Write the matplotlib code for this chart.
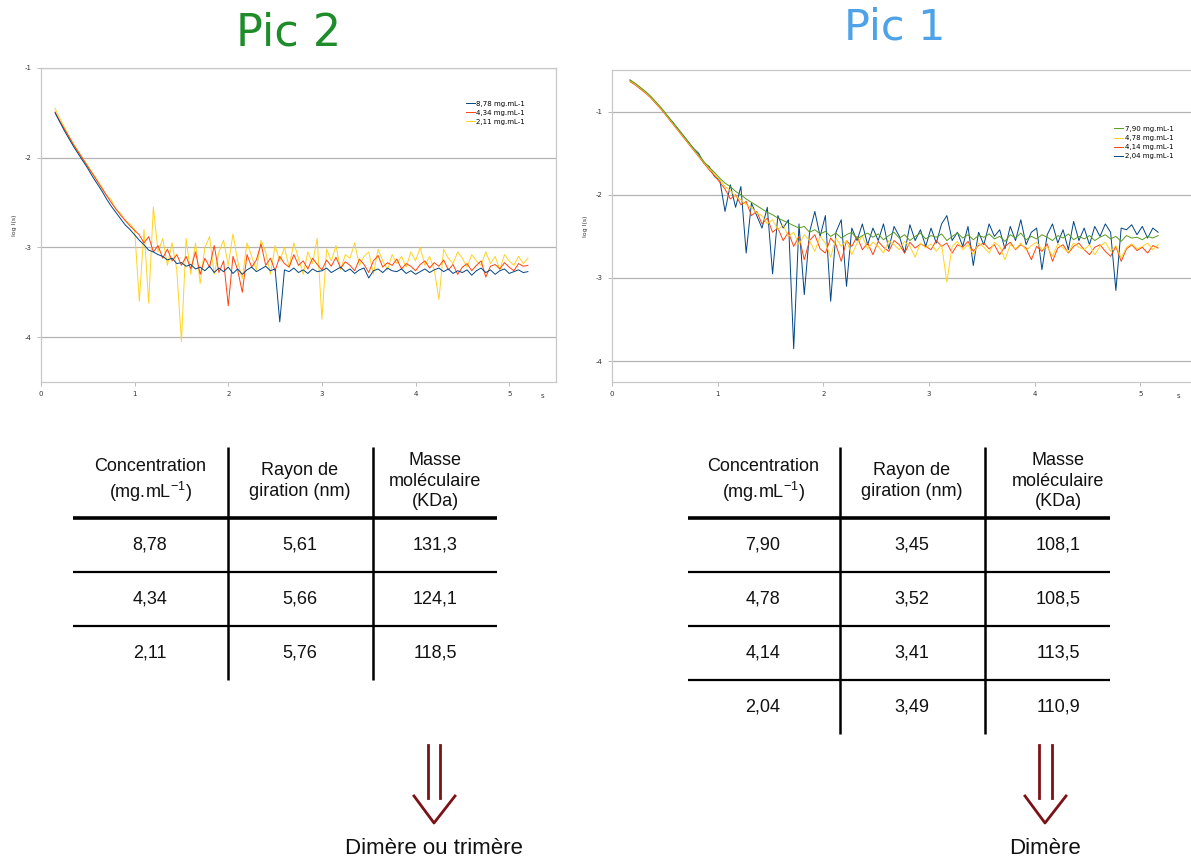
import numpy as np
import matplotlib
matplotlib.use("Agg")
import matplotlib.pyplot as plt

plt.rcParams["axes.unicode_minus"] = False
plt.rcParams["mathtext.default"] = "regular"

# Pic 2 curves (log I(s) vs s), step 0.05 s from 0.15
pic2_labels = ["8,78 mg.mL-1", "4,34 mg.mL-1", "2,11 mg.mL-1"]
pic2_c878 = [-1.50, -1.60, -1.70, -1.79, -1.88, -1.96, -2.04, -2.12, -2.21, -2.29,
             -2.37, -2.46, -2.54, -2.61, -2.68, -2.75, -2.80, -2.86,
             -2.92, -2.97, -3.03, -3.05, -3.08, -3.10, -3.14, -3.12, -3.18, -3.17,
             -3.21, -3.19, -3.24, -3.22, -3.26, -3.21, -3.28, -3.23, -3.27,
             -3.22, -3.29, -3.24, -3.30, -3.25, -3.22, -3.27, -3.24, -3.21, -3.26,
             -3.24, -3.83, -3.25, -3.27, -3.23, -3.28, -3.25, -3.29, -3.24, -3.27,
             -3.26, -3.23, -3.28, -3.25, -3.22, -3.27, -3.24, -3.29, -3.25, -3.23,
             -3.34, -3.26, -3.24, -3.28, -3.23, -3.26, -3.27, -3.24, -3.29, -3.26,
             -3.30, -3.27, -3.24, -3.28, -3.25, -3.23, -3.27, -3.24, -3.29, -3.26,
             -3.28, -3.25, -3.31, -3.26, -3.23, -3.28, -3.25, -3.30, -3.26, -3.24,
             -3.29, -3.27, -3.25, -3.28, -3.27]
pic2_c434 = [-1.49, -1.59, -1.68, -1.77, -1.86, -1.94, -2.02, -2.10, -2.18, -2.26,
             -2.34, -2.42, -2.50, -2.57, -2.64, -2.70, -2.76, -2.81,
             -2.86, -2.95, -2.88, -3.05, -2.98, -3.12, -3.02, -3.15, -3.08, -3.20,
             -3.10, -3.24, -3.05, -3.30, -3.12, -3.22, -2.98, -3.28, -3.15,
             -3.65, -3.10, -3.25, -3.50, -3.08, -3.22, -3.14, -2.96, -3.20, -3.12,
             -3.26, -3.10, -3.18, -3.22, -3.08, -3.20, -3.15, -3.24, -3.12, -3.19,
             -3.25, -3.14, -3.21, -3.11, -3.23, -3.16, -3.20, -3.26, -3.13, -3.19,
             -3.28, -3.15, -3.09, -3.22, -3.17, -3.20, -3.13, -3.24, -3.18, -3.21,
             -3.26, -3.19, -3.15, -3.23, -3.17, -3.21, -3.14, -3.25, -3.19, -3.30,
             -3.22, -3.18, -3.26, -3.20, -3.15, -3.33, -3.21, -3.19, -3.24, -3.17,
             -3.22, -3.26, -3.18, -3.21, -3.20]
pic2_c211 = [-1.45, -1.56, -1.66, -1.76, -1.85, -1.93, -2.01, -2.09, -2.17, -2.25,
             -2.33, -2.42, -2.47, -2.58, -2.62, -2.70, -2.74, -2.80,
             -3.60, -2.80, -3.62, -2.55, -3.05, -2.90, -3.20, -2.95, -3.25, -4.05,
             -2.90, -3.30, -2.95, -3.40, -3.00, -2.88, -3.30, -3.05, -2.92,
             -3.20, -2.85, -3.15, -3.35, -2.95, -3.10, -3.25, -2.92, -3.05, -3.30,
             -2.98, -3.15, -3.00, -3.22, -2.95, -3.12, -3.30, -3.05, -3.18, -2.90,
             -3.80, -3.02, -3.15, -2.98, -3.25, -3.08, -3.12, -2.95, -3.20, -3.10,
             -3.05, -3.30, -3.02, -3.15, -3.25, -3.08, -3.18, -3.10, -3.22, -3.05,
             -3.15, -3.00, -3.20, -3.10, -3.25, -3.58, -3.02, -3.12, -3.18, -3.05,
             -3.12, -3.22, -3.08, -3.15, -3.20, -3.05, -3.18, -3.10, -3.25, -3.08,
             -3.15, -3.20, -3.10, -3.18, -3.12]

# Pic 1 curves, step 0.05 s from 0.17
pic1_labels = ["7,90 mg.mL-1", "4,78 mg.mL-1", "4,14 mg.mL-1", "2,04 mg.mL-1"]
pic1_c790 = [-0.62, -0.66, -0.71, -0.76, -0.82, -0.89, -0.96, -1.04, -1.12, -1.20,
             -1.28, -1.36, -1.44, -1.52, -1.60, -1.67, -1.73, -1.80,
             -1.86, -1.90, -1.96, -2.00, -2.05, -2.09, -2.13, -2.17, -2.21, -2.24,
             -2.28, -2.31, -2.34, -2.37, -2.40, -2.38, -2.45, -2.42, -2.47,
             -2.44, -2.50, -2.46, -2.52, -2.48, -2.45, -2.53, -2.49, -2.46, -2.51,
             -2.47, -2.54, -2.49, -2.45, -2.52, -2.48, -2.55, -2.50, -2.46, -2.53,
             -2.49, -2.51, -2.47, -2.55, -2.50, -2.46, -2.52, -2.48, -2.54, -2.49,
             -2.51, -2.47, -2.53, -2.50, -2.56, -2.48, -2.52, -2.46, -2.54, -2.50,
             -2.53, -2.48, -2.51, -2.55, -2.49, -2.52, -2.47, -2.54, -2.50, -2.53,
             -2.49, -2.55, -2.51, -2.48, -2.53, -2.50, -2.56, -2.49, -2.52, -2.51,
             -2.54, -2.50, -2.52, -2.49]
pic1_c478 = [-0.63, -0.67, -0.72, -0.77, -0.83, -0.90, -0.97, -1.05, -1.13, -1.21,
             -1.29, -1.37, -1.45, -1.53, -1.61, -1.68, -1.75, -1.82,
             -1.90, -1.95, -2.02, -2.06, -2.12, -2.15, -2.22, -2.25, -2.35, -2.30,
             -2.42, -2.36, -2.50, -2.45, -2.60, -2.48, -2.55, -2.68, -2.50,
             -2.58, -2.75, -2.52, -2.62, -2.55, -2.72, -2.58, -2.50, -2.65, -2.57,
             -2.62, -2.70, -2.55, -2.60, -2.66, -2.56, -2.62, -2.75, -2.58, -2.64,
             -2.59, -2.68, -2.60, -3.05, -2.62, -2.56, -2.66, -2.60, -2.72, -2.58,
             -2.63, -2.70, -2.57, -2.62, -2.78, -2.60, -2.65, -2.58, -2.67, -2.61,
             -2.57, -2.66, -2.62, -2.74, -2.59, -2.64, -2.69, -2.58, -2.63, -2.66,
             -2.60, -2.72, -2.62, -2.57, -2.68, -2.61, -2.76, -2.63, -2.59, -2.65,
             -2.62, -2.58, -2.66, -2.60]
pic1_c414 = [-0.64, -0.68, -0.73, -0.78, -0.84, -0.91, -0.98, -1.06, -1.14, -1.22,
             -1.30, -1.38, -1.46, -1.54, -1.62, -1.70, -1.77, -1.85,
             -1.93, -2.05, -2.00, -2.12, -2.08, -2.25, -2.20, -2.35, -2.28, -2.45,
             -2.40, -2.55, -2.45, -2.62, -2.50, -2.78, -2.55, -2.48, -2.65,
             -2.70, -2.52, -2.60, -2.80, -2.55, -2.62, -2.50, -2.66, -2.58, -2.72,
             -2.56, -2.63, -2.68, -2.55, -2.60, -2.70, -2.57, -2.64, -2.59, -2.62,
             -2.66, -2.55, -2.62, -2.58, -2.70, -2.60, -2.63, -2.56, -2.68, -2.61,
             -2.58, -2.65, -2.60, -2.72, -2.62, -2.57, -2.66, -2.60, -2.64, -2.78,
             -2.62, -2.68, -2.59, -2.80, -2.64, -2.60, -2.70, -2.62, -2.58, -2.66,
             -2.72, -2.63, -2.60, -2.68, -2.74, -2.62, -2.80, -2.65, -2.60, -2.67,
             -2.63, -2.70, -2.61, -2.64]
pic1_c204 = [-0.62, -0.67, -0.72, -0.77, -0.83, -0.90, -0.97, -1.05, -1.12, -1.20,
             -1.28, -1.36, -1.44, -1.50, -1.62, -1.66, -1.78, -1.82,
             -2.20, -1.88, -2.15, -1.90, -2.70, -2.10, -2.25, -2.40, -2.15, -2.95,
             -2.25, -2.40, -2.30, -3.85, -2.35, -3.20, -2.45, -2.20, -2.50,
             -2.25, -3.28, -2.45, -2.30, -3.10, -2.40, -2.55, -2.35, -2.60, -2.40,
             -2.55, -2.35, -2.65, -2.38, -2.50, -2.70, -2.36, -2.55, -2.42, -2.62,
             -2.40, -2.58, -2.35, -2.25, -2.55, -2.45, -2.62, -2.38, -2.85, -2.45,
             -2.60, -2.35, -2.50, -2.42, -2.65, -2.38, -2.55, -2.30, -2.60, -2.45,
             -2.40, -2.90, -2.48, -2.35, -2.58, -2.42, -2.66, -2.32, -2.55, -2.40,
             -2.60, -2.38, -2.50, -2.35, -2.45, -3.15, -2.40, -2.42, -2.36, -2.48,
             -2.38, -2.52, -2.40, -2.45]

# tables
headers = ["Concentration\n(mg.mL$^{-1}$)", "Rayon de\ngiration (nm)", "Masse\nmoléculaire\n(KDa)"]
pic2_conc = ["8,78", "4,34", "2,11"]
pic2_rg = ["5,61", "5,66", "5,76"]
pic2_mass = ["131,3", "124,1", "118,5"]
pic1_conc = ["7,90", "4,78", "4,14", "2,04"]
pic1_rg = ["3,45", "3,52", "3,41", "3,49"]
pic1_mass = ["108,1", "108,5", "113,5", "110,9"]

W, H = 1191, 864
fig = plt.figure(figsize=(W / 100, H / 100), dpi=100)


def fx(px):
    return px / W


def fy(py):
    return 1 - py / H


def style_chart(ax, ylim, yticks):
    ax.set_xlim(0, 5.5)
    ax.set_ylim(*ylim)
    ax.set_yticks(yticks)
    ax.set_xticks([0, 1, 2, 3, 4, 5])
    ax.yaxis.grid(True, color="#b3b3b3", lw=0.9)
    ax.set_axisbelow(True)
    for s in ax.spines.values():
        s.set_color("#c8c8c8")
        s.set_linewidth(0.9)
    ax.tick_params(labelsize=5, colors="#b0b0b0", labelcolor="#333333", length=3, width=0.6)
    ax.set_ylabel("log I(s)", fontsize=4.5, color="#333333", labelpad=6)
    ax.text(5.36, -0.035, "s", transform=ax.get_xaxis_transform(), fontsize=5,
            color="#333333", ha="center", va="top")


blue, orange, yellow, green = "#004586", "#ff420e", "#ffd320", "#579d1c"
lw = 0.7

# left chart (Pic 2)
ax1 = fig.add_axes([fx(41), fy(382), fx(556 - 41), (382 - 68) / H])
x2 = 0.15 + 0.05 * np.arange(len(pic2_c878))
ax1.plot(x2, pic2_c878, color=blue, lw=lw, label=pic2_labels[0], zorder=3)
ax1.plot(x2, pic2_c434, color=orange, lw=lw, label=pic2_labels[1], zorder=2)
ax1.plot(x2, pic2_c211, color=yellow, lw=lw, label=pic2_labels[2], zorder=1)
style_chart(ax1, (-4.5, -1), [-1, -2, -3, -4])
ax1.legend(loc="upper left", bbox_to_anchor=(0.82, 0.905), fontsize=5, frameon=False,
           handlelength=1.3, handletextpad=0.15, labelspacing=0.45, borderaxespad=0)

# right chart (Pic 1)
ax2 = fig.add_axes([fx(612), fy(382), fx(1193 - 612), (382 - 70) / H])
x1 = 0.17 + 0.05 * np.arange(len(pic1_c790))
ax2.plot(x1, pic1_c204, color=blue, lw=lw, label=pic1_labels[3], zorder=1)
ax2.plot(x1, pic1_c414, color=orange, lw=lw, label=pic1_labels[2], zorder=2)
ax2.plot(x1, pic1_c478, color=yellow, lw=lw, label=pic1_labels[1], zorder=3)
ax2.plot(x1, pic1_c790, color=green, lw=lw, label=pic1_labels[0], zorder=4)
style_chart(ax2, (-4.25, -0.5), [-1, -2, -3, -4])
h, l = ax2.get_legend_handles_labels()
ax2.legend(h[::-1], l[::-1], loc="upper left", bbox_to_anchor=(0.86, 0.83), fontsize=5,
           frameon=False, handlelength=1.3, handletextpad=0.15, labelspacing=0.45,
           borderaxespad=0)

# overlay in pixel coordinates for titles, tables and arrows
ov = fig.add_axes([0, 0, 1, 1])
ov.set_xlim(0, W)
ov.set_ylim(H, 0)
ov.axis("off")

ov.text(289, 33, "Pic 2", fontsize=32, color="#1e8c2a", ha="center", va="center",
        family="DejaVu Sans")
ov.text(895, 27, "Pic 1", fontsize=31, color="#4ea3e8", ha="center", va="center",
        family="DejaVu Sans")

tfont = dict(family="Liberation Sans", fontsize=13, color="#111111", ha="center",
             va="center", linespacing=1.3)


def draw_table(cols_x, left, right, vlines, conc, rg, mass):
    ov.plot([left, right], [518, 518], color="black", lw=2.6, solid_capstyle="butt")
    n = len(conc)
    row_y = [545 + 54 * i for i in range(n)]
    for i in range(1, n):
        yy = 518 + 54 * i
        ov.plot([left, right], [yy, yy], color="black", lw=1.6, solid_capstyle="butt")
    bottom = 518 + 54 * n
    for vx in vlines:
        ov.plot([vx, vx], [447, bottom], color="black", lw=1.8, solid_capstyle="butt")
    for cx, hd in zip(cols_x, headers):
        ov.text(cx, 481, hd, **tfont)
    for i in range(n):
        for cx, val in zip(cols_x, [conc[i], rg[i], mass[i]]):
            ov.text(cx, row_y[i], val, **tfont)


draw_table([150, 300, 435], 73, 497, [228, 373], pic2_conc, pic2_rg, pic2_mass)
draw_table([763, 912, 1058], 688, 1110, [840, 985], pic1_conc, pic1_rg, pic1_mass)

red = "#7b1218"


def draw_arrow(xa, xb, xl, xm, xr):
    ov.plot([xa, xa], [745, 798], color=red, lw=2)
    ov.plot([xb, xb], [745, 798], color=red, lw=2)
    ov.plot([xl, xm, xr], [796, 823, 796], color=red, lw=2)


draw_arrow(428, 440, 414, 434, 455)
draw_arrow(1039, 1052, 1025, 1045, 1066)

ov.text(434, 849, "Dimère ou trimère", family="Liberation Sans", fontsize=16,
        color="#111111", ha="center", va="center")
ov.text(1045, 849, "Dimère", family="Liberation Sans", fontsize=16,
        color="#111111", ha="center", va="center")

fig.savefig("out.png", dpi=100)
